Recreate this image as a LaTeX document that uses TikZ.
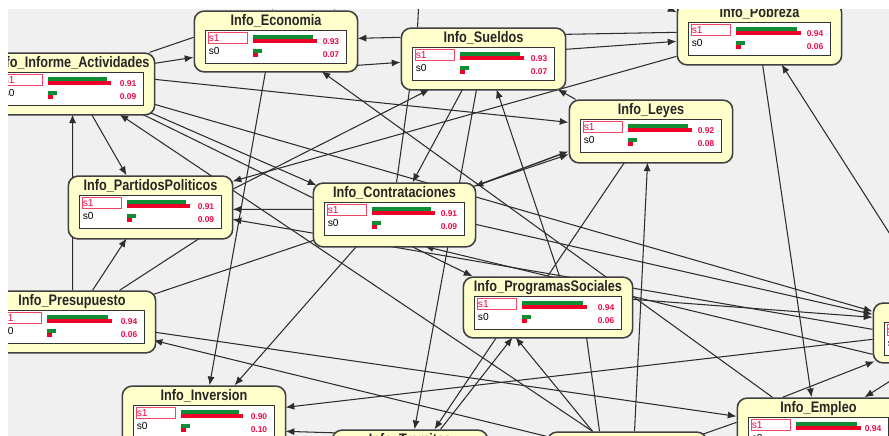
\documentclass[tikz,border=0pt]{standalone}
\usepackage{fontspec}
\setmainfont{Liberation Sans}
\newfontfamily\titlefont[FakeStretch=0.83]{Liberation Sans Bold}
\usetikzlibrary{calc,arrows.meta,backgrounds}

\definecolor{canvasgray}{RGB}{240,240,240}
\definecolor{nodeyellow}{RGB}{255,255,204}
\definecolor{bargreen}{RGB}{16,140,52}
\definecolor{barred}{RGB}{238,0,40}
\definecolor{probred}{RGB}{240,10,70}
\definecolor{framered}{RGB}{240,70,100}
\definecolor{linkgray}{RGB}{45,45,45}

% network node: name, centre, width, height, title, bar length, p(s1), p(s0)
\newcommand{\netnode}[8]{%
  \node[netbox, minimum width={#3*0.5669pt}, minimum height={#4*0.5669pt}] (#1) at #2 {};
  \node[nettitle] at ($(#1.north)+(0,15)$) {#5};
  \begin{scope}[shift={(#1.north west)}]
    \draw[statebox] (12,20) rectangle (#3-11,53);
    \draw[oneframe] (15,22) rectangle (54,33);
    \node[statelab, text=probred] at (15,27.5) {s1};
    \node[statelab] at (15,40.5) {s0};
    \fill[bargreen] (59,25) rectangle ++(#6-4,4);
    \fill[barred] (59,29) rectangle ++(#6,4);
    \fill[bargreen] (59,39) rectangle ++(9,4);
    \fill[barred] (59,43) rectangle ++(5,4);
    \node[problab] at (#3-18,31.5) {#7};
    \node[problab] at (#3-18,44.5) {#8};
  \end{scope}}

\begin{document}
\begin{tikzpicture}[
    x=0.02cm, y=-0.02cm,
    netbox/.style={rectangle, rounded corners=5.5pt, draw=black!75, line width=0.9pt, fill=nodeyellow, inner sep=0pt},
    nettitle/.style={anchor=base, inner sep=0pt, text=black!85, font=\titlefont\fontsize{8.7}{10}\selectfont},
    statebox/.style={draw=black!80, line width=0.7pt, fill=white},
    oneframe/.style={draw=framered, line width=0.6pt, fill=white},
    statelab/.style={anchor=west, inner sep=0pt, font=\fontsize{5.8}{6}\selectfont},
    problab/.style={anchor=east, inner sep=0pt, text=probred, font=\bfseries\fontsize{4.8}{5}\selectfont},
    edgearrow/.style={draw=linkgray, line width=0.6pt, -{Latex[length=5pt,width=4pt]}},
    edgeboth/.style={draw=linkgray, line width=0.8pt, {Latex[length=5pt,width=4pt]}-{Latex[length=5pt,width=4pt]}},
    edgeline/.style={draw=linkgray, line width=0.6pt},
    ]
\useasboundingbox (0,0) rectangle (889,436);

%Nodes
\begin{scope}
\clip (8,9) rectangle (889,436);
\netnode{act}{(72,84)}{166}{62}{Info\_Informe\_Actividades}{63}{0.91}{0.09}
\netnode{eco}{(276,41.5)}{164}{61}{Info\_Economia}{64}{0.93}{0.07}
\netnode{sue}{(483.5,59)}{165}{62}{Info\_Sueldos}{64}{0.93}{0.07}
\netnode{pob}{(759.5,34)}{165}{62}{Info\_Pobreza}{65}{0.94}{0.06}
\netnode{ley}{(651,131.5)}{164}{63}{Info\_Leyes}{64}{0.92}{0.08}
\netnode{par}{(150.5,207.5)}{165}{63}{Info\_PartidosPoliticos}{63}{0.91}{0.09}
\netnode{con}{(394.5,215)}{163}{64}{Info\_Contrataciones}{63}{0.91}{0.09}
\netnode{pro}{(548,307.5)}{170}{61}{Info\_ProgramasSociales}{65}{0.94}{0.06}
\netnode{pre}{(72,322)}{168}{62}{Info\_Presupuesto}{65}{0.94}{0.06}
\netnode{inv}{(204,417)}{164}{62}{Info\_Inversion}{62}{0.90}{0.10}
\netnode{tra}{(410,461)}{156}{62}{Info\_Tramites}{64}{}{}
\netnode{emp}{(818.5,429)}{163}{62}{Info\_Empleo}{65}{0.94}{}
\netnode{der}{(955.5,333)}{165}{60}{}{64}{}{}
\netnode{aba}{(627,463)}{160}{62}{}{64}{}{}
\end{scope}

\coordinate (upa) at (268,-40);
\coordinate (upb) at (340,-40);
\coordinate (upc) at (421,-40);
\coordinate (upd) at (600,-25);

%Lines
\begin{pgfonlayer}{background}
\fill[white] (0,0) rectangle (889,436);
\fill[canvasgray] (8,9) rectangle (889,436);
\begin{scope}
\clip (8,9) rectangle (889,436);
\draw[edgearrow] (upa) -- ($(eco.north west)+(79,0)$);
\draw[edgearrow] (upb) -- ($(eco.north west)+(141,0)$);
\draw[edgearrow] ($(sue.north west)+(17,0)$) -- (upc);
\draw[edgearrow] (upd) -- ($(pob.north west)+(0,10)$);

\draw[edgearrow] ($(act.north west)+(166,11)$) -- ($(eco.north west)+(0,47)$);
\draw[edgeline] ($(act.north west)+(161,0)$) -- ($(eco.north west)+(0,27)$);
\draw[edgearrow] ($(sue.north west)+(0,10)$) -- ($(eco.north west)+(164,28)$);
\draw[edgearrow] ($(eco.north west)+(164,55)$) -- ($(sue.north west)+(0,35)$);
\draw[edgearrow] ($(sue.north west)+(165,22)$) -- ($(pob.north west)+(0,39)$);
\draw[edgeline] ($(sue.north west)+(165,7)$) -- ($(pob.north west)+(0,30)$);
\draw[edgearrow] ($(pob.north west)+(0,54)$) -- ($(par.north west)+(165,6)$);
\draw[edgearrow] ($(act.north west)+(166,27)$) -- ($(ley.north west)+(0,23)$);
\draw[edgearrow] ($(ley.north west)+(7,0)$) -- ($(sue.north west)+(157,62)$);
\draw[edgearrow] ($(emp.north west)+(36,0)$) -- ($(eco.north west)+(128,61)$);
\draw[edgearrow] ($(par.north west)+(165,14)$) -- ($(sue.north west)+(29,62)$);
\draw[edgearrow] ($(eco.north west)+(72,61)$) -- ($(inv.north west)+(88,0)$);
\draw[edgearrow] ($(con.north west)+(44,64)$) -- ($(inv.north west)+(113,0)$);
\draw[edgearrow] ($(sue.north west)+(62,62)$) -- ($(con.north west)+(100,0)$);
\draw[edgeline] ($(sue.north west)+(9,62)$) -- ($(con.north west)+(84,0)$);
\draw[edgearrow] ($(sue.north west)+(76,62)$) -- ($(tra.north west)+(83,0)$);
\draw[edgearrow] ($(pro.north west)+(97,0)$) -- ($(sue.north west)+(96,62)$);
\draw[edgearrow] ($(pre.north west)+(85,0)$) -- ($(act.north west)+(84,62)$);
\draw[edgearrow] ($(aba.north west)+(46,0)$) -- ($(act.north west)+(131,62)$);
\draw[edgearrow] ($(act.north west)+(103,62)$) -- ($(par.north west)+(59,0)$);
\draw[edgearrow] ($(act.north west)+(161,60)$) -- ($(con.north west)+(4,3)$);
\draw[edgearrow] ($(act.north west)+(154,62)$) -- ($(pro.north west)+(10,0)$);
\draw[edgearrow] ($(act.north west)+(166,52)$) -- ($(der.north west)+(0,9)$);
\draw[edgearrow] ($(con.north west)+(163,42)$) -- ($(der.north west)+(0,12)$);
\draw[edgearrow] ($(pro.north west)+(170,23)$) -- ($(der.north west)+(0,15)$);
\draw[edgearrow] ($(der.north west)+(0,27)$) -- ($(par.north west)+(165,44)$);
\draw[edgearrow] ($(con.north west)+(0,27)$) -- ($(par.north west)+(165,34)$);
\draw[edgeboth] ($(ley.north west)+(0,52)$) -- ($(con.north west)+(162,4)$);
\draw[edgearrow] ($(aba.north west)+(88,0)$) -- ($(ley.north west)+(79,63)$);
\draw[edgeline] ($(ley.north west)+(56,63)$) -- ($(pro.north west)+(85,0)$);
\draw[edgearrow] ($(der.north west)+(0,52)$) -- ($(con.north west)+(112,64)$);
\draw[edgearrow] ($(pob.north west)+(86,62)$) -- ($(emp.north west)+(75,0)$);
\draw[edgearrow] ($(der.north west)+(61,0)$) -- ($(pob.north west)+(105,62)$);
\draw[edgearrow] ($(emp.north west)+(46,0)$) -- ($(der.north west)+(2,59)$);
\draw[edgearrow] ($(der.north west)+(47,60)$) -- ($(emp.north west)+(128,0)$);
\draw[edgearrow] ($(der.north west)+(0,37)$) -- ($(inv.north west)+(164,22)$);
\draw[edgearrow] ($(aba.north west)+(0,8)$) -- ($(inv.north west)+(164,46)$);
\draw[edgearrow] ($(pre.north west)+(168,42)$) -- ($(emp.north west)+(0,19)$);
\draw[edgearrow] ($(aba.north west)+(0,5)$) -- ($(pre.north west)+(166,50)$);
\draw[edgearrow] ($(pro.north west)+(34,61)$) -- ($(tra.north west)+(103,0)$);
\draw[edgearrow] ($(tra.north west)+(109,0)$) -- ($(pro.north west)+(50,61)$);
\draw[edgearrow] ($(aba.north west)+(46,0)$) -- ($(pro.north west)+(53,61)$);
\draw[edgeline] ($(pro.north west)+(124,61)$) -- ($(aba.north west)+(53,0)$);
\draw[edgearrow] ($(pre.north west)+(105,0)$) -- ($(par.north west)+(59,63)$);
\draw[edgeline] ($(pre.north west)+(132,0)$) -- ($(par.north west)+(132,63)$);
\draw[edgearrow] ($(pre.north west)+(163,5)$) -- ($(ley.north west)+(0,55)$);
\draw[edgeline] ($(aba.north west)+(153,4)$) -- ($(emp.north west)+(0,25)$);
\end{scope}
\end{pgfonlayer}

\end{tikzpicture}
\end{document}
